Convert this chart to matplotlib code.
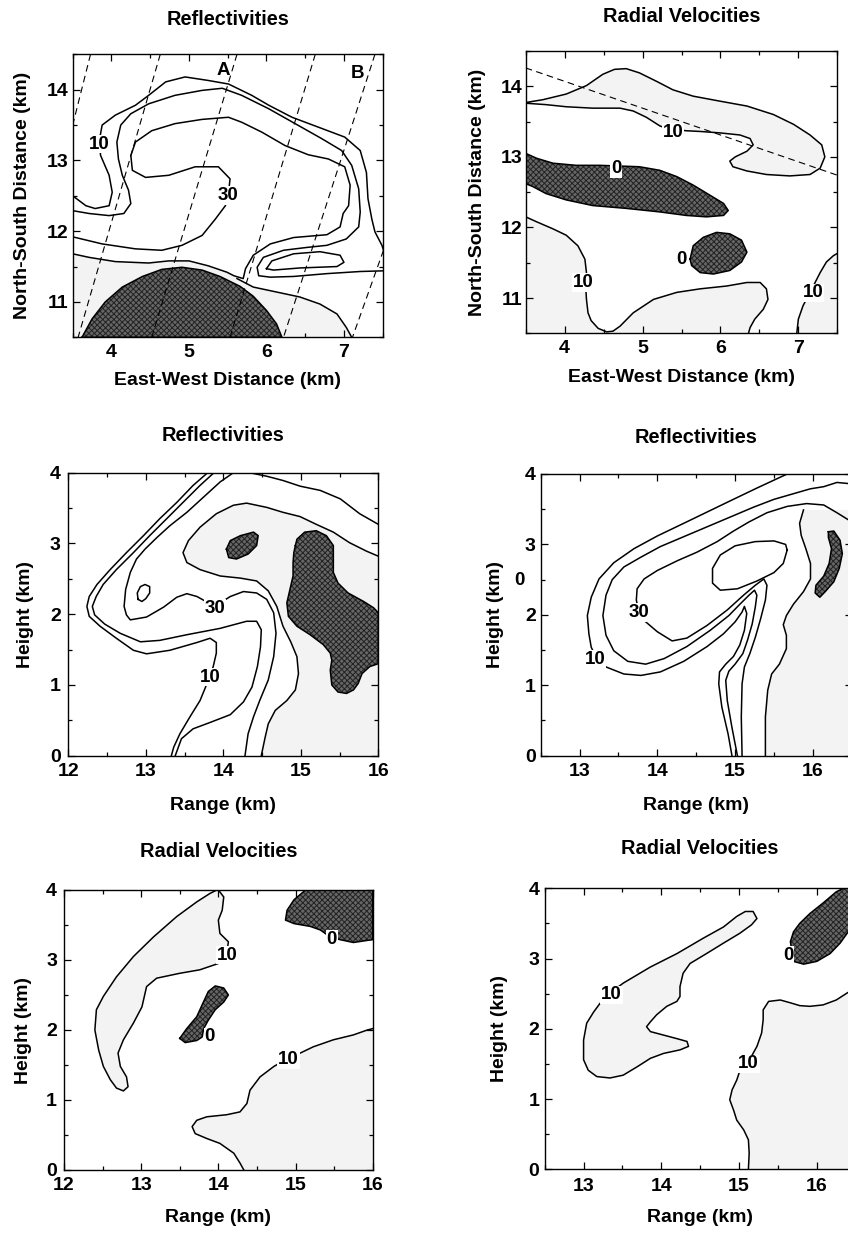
import matplotlib
matplotlib.use("Agg")
import matplotlib.pyplot as plt
import numpy as np
from matplotlib.ticker import MultipleLocator

plt.rcParams["font.family"] = ["Liberation Sans", "DejaVu Sans"]
plt.rcParams["font.weight"] = "bold"
plt.rcParams["axes.labelweight"] = "bold"
plt.rcParams["axes.titleweight"] = "bold"
plt.rcParams["font.size"] = 14
plt.rcParams["axes.titlesize"] = 14.4
plt.rcParams["hatch.linewidth"] = 0.7

# ---------------- panel 1: reflectivity, plan view (km) ----------------
P1_Z10 = [(3.50, 12.50), (3.67, 12.36), (3.79, 12.32), (3.97, 12.36), (4.01, 12.55), (3.97, 12.79),
          (3.86, 13.07), (3.84, 13.26), (3.88, 13.50), (4.05, 13.64), (4.31, 13.78), (4.48, 13.92),
          (4.70, 14.11), (4.95, 14.18), (5.25, 14.13), (5.51, 14.08), (5.81, 13.92), (6.03, 13.78),
          (6.33, 13.61), (6.67, 13.47), (7.01, 13.33), (7.21, 13.14), (7.29, 12.83), (7.31, 12.46),
          (7.36, 12.17), (7.40, 11.99), (7.49, 11.80), (7.52, 11.70)]
P1_Z20 = [(3.50, 12.29), (3.71, 12.25), (3.97, 12.22), (4.16, 12.25), (4.25, 12.39), (4.22, 12.58),
          (4.14, 12.79), (4.09, 13.02), (4.07, 13.26), (4.12, 13.50), (4.25, 13.66), (4.48, 13.80),
          (4.82, 13.92), (5.17, 13.99), (5.43, 14.02), (5.68, 13.92), (6.03, 13.73), (6.37, 13.52),
          (6.71, 13.31), (6.97, 13.14), (7.10, 12.93), (7.19, 12.60), (7.21, 12.27), (7.19, 12.06),
          (7.03, 11.89), (6.78, 11.80), (6.52, 11.77), (6.22, 11.73), (5.96, 11.63), (5.88, 11.49),
          (5.90, 11.37), (6.05, 11.35), (6.35, 11.36), (6.78, 11.40), (7.21, 11.43), (7.52, 11.44)]
P1_Z30 = [(3.50, 11.92), (3.88, 11.82), (4.31, 11.75), (4.65, 11.73), (4.91, 11.80), (5.17, 11.94),
          (5.34, 12.17), (5.47, 12.36), (5.51, 12.53), (5.53, 12.74), (5.38, 12.91), (5.08, 12.91),
          (4.74, 12.79), (4.44, 12.76), (4.27, 12.86), (4.25, 13.07), (4.31, 13.26), (4.52, 13.42),
          (4.82, 13.52), (5.17, 13.58), (5.51, 13.61), (5.68, 13.54), (5.94, 13.40), (6.24, 13.21),
          (6.54, 13.08), (6.80, 13.02), (7.01, 12.91), (7.08, 12.65), (7.06, 12.36), (6.99, 12.25),
          (6.95, 12.06), (6.78, 11.95), (6.35, 11.91), (6.05, 11.82), (5.83, 11.66), (5.73, 11.47),
          (5.70, 11.33), (5.58, 11.37), (5.49, 11.42), (5.25, 11.51), (5.00, 11.58), (4.74, 11.58),
          (4.48, 11.55), (4.05, 11.57), (3.71, 11.63), (3.50, 11.68)]
P1_LOOP = [(6.00, 11.47), (6.07, 11.58), (6.35, 11.68), (6.69, 11.71), (6.95, 11.66), (7.00, 11.56),
           (6.91, 11.50), (6.43, 11.48), (6.09, 11.45), (6.00, 11.47)]
P1_LOW = [(5.62, 11.33), (5.83, 11.21), (6.13, 11.14), (6.43, 11.07), (6.69, 10.97), (6.91, 10.83),
          (7.03, 10.64), (7.10, 10.50)]
P1_CORE = [(3.62, 10.50), (3.75, 10.76), (3.92, 11.00), (4.14, 11.21), (4.40, 11.36), (4.65, 11.46),
           (4.91, 11.49), (5.17, 11.45), (5.40, 11.36), (5.66, 11.22), (5.83, 11.08), (6.00, 10.88),
           (6.13, 10.69), (6.20, 10.50)]
P1_SHADE = [(3.50, 11.68), (3.71, 11.63), (4.05, 11.57), (4.48, 11.55), (4.74, 11.58), (5.00, 11.58),
            (5.25, 11.51), (5.49, 11.42), (5.62, 11.33), (5.83, 11.21), (6.13, 11.14), (6.43, 11.07),
            (6.69, 10.97), (6.91, 10.83), (7.03, 10.64), (7.10, 10.50), (3.50, 10.50)]
P1_RADIALS = [[(3.73, 14.5), (3.50, 13.5)], [(4.63, 14.5), (3.57, 10.5)], [(5.62, 14.5), (4.52, 10.5)],
              [(6.63, 14.5), (5.53, 10.5)], [(7.40, 14.5), (6.22, 10.5)], [(7.51, 11.73), (7.11, 10.5)]]
P1_LABELS = [(3.84, 13.26, "10"), (5.51, 12.53, "30")]
P1_LETTERS = [(5.44, 14.30, "A"), (7.18, 14.25, "B")]

# ---------------- panel 2: radial velocity, plan view ----------------
P2_V10_TOP = [(3.50, 13.77), (3.72, 13.81), (4.02, 13.89), (4.28, 14.01), (4.49, 14.17), (4.64, 14.24),
              (4.79, 14.25), (4.96, 14.19), (5.18, 14.07), (5.39, 13.95), (5.65, 13.86), (5.99, 13.79),
              (6.34, 13.72), (6.68, 13.60), (6.94, 13.46), (7.15, 13.31), (7.30, 13.17), (7.34, 13.00),
              (7.28, 12.84), (7.15, 12.75), (6.89, 12.73), (6.59, 12.75), (6.34, 12.80), (6.16, 12.86),
              (6.12, 12.94), (6.19, 13.00), (6.34, 13.08), (6.42, 13.17), (6.38, 13.26), (6.25, 13.31),
              (5.99, 13.34), (5.74, 13.36), (5.56, 13.37), (5.31, 13.40), (5.22, 13.44), (5.05, 13.56),
              (4.88, 13.65), (4.71, 13.69), (4.36, 13.69), (4.02, 13.71), (3.76, 13.74), (3.50, 13.76)]
P2_V0_BAND = [(3.50, 13.05), (3.64, 12.98), (3.85, 12.91), (4.15, 12.88), (4.45, 12.88), (4.71, 12.87),
              (4.96, 12.86), (5.22, 12.81), (5.44, 12.72), (5.65, 12.60), (5.86, 12.46), (6.04, 12.34),
              (6.10, 12.24), (6.04, 12.17), (5.82, 12.15), (5.56, 12.17), (5.22, 12.22), (4.79, 12.27),
              (4.36, 12.31), (4.02, 12.39), (3.76, 12.48), (3.59, 12.58), (3.50, 12.62)]
P2_V0_CELL = [(5.61, 11.55), (5.65, 11.74), (5.78, 11.86), (5.95, 11.93), (6.12, 11.91), (6.27, 11.82),
              (6.34, 11.65), (6.27, 11.51), (6.12, 11.39), (5.91, 11.34), (5.74, 11.36), (5.63, 11.46)]
P2_V10_LOW = [(3.50, 12.15), (3.64, 12.08), (3.85, 11.98), (4.02, 11.89), (4.17, 11.74), (4.26, 11.55),
              (4.28, 11.36), (4.27, 11.17), (4.28, 10.98), (4.30, 10.79), (4.34, 10.68), (4.43, 10.57),
              (4.54, 10.52), (4.62, 10.53), (4.71, 10.60), (4.88, 10.79), (5.14, 10.98), (5.44, 11.08),
              (5.74, 11.13), (6.08, 11.17), (6.34, 11.22), (6.51, 11.22), (6.59, 11.13), (6.61, 10.98),
              (6.55, 10.84), (6.44, 10.70), (6.38, 10.58), (6.36, 10.50)]
P2_V10_EDGE = [(6.98, 10.50), (7.00, 10.70), (7.06, 10.89), (7.15, 11.08), (7.28, 11.36), (7.36, 11.51),
               (7.45, 11.60), (7.53, 11.65)]
P2_SECTION = [(3.50, 14.26), (7.50, 12.74)]
P2_LABELS = [(5.39, 13.38, "10"), (4.66, 12.86, "0"), (5.50, 11.58, "0"), (4.24, 11.25, "10"),
             (7.19, 11.10, "10")]

# ---------------- panel 3: reflectivity, cross section A ----------------
P3_Z10 = [(13.83, 4.03), (13.61, 3.82), (13.40, 3.58), (13.18, 3.35), (12.97, 3.11), (12.75, 2.87),
          (12.54, 2.63), (12.37, 2.42), (12.27, 2.25), (12.24, 2.11), (12.27, 1.97), (12.41, 1.83),
          (12.62, 1.66), (12.84, 1.49), (13.01, 1.44), (13.31, 1.49), (13.66, 1.60), (13.83, 1.66),
          (13.91, 1.60), (13.91, 1.45), (13.87, 1.26), (13.83, 1.14), (13.79, 1.02), (13.70, 0.78),
          (13.57, 0.55), (13.44, 0.31), (13.36, 0.12), (13.33, 0.00)]
P3_Z20 = [(13.91, 4.03), (13.70, 3.82), (13.48, 3.58), (13.27, 3.35), (13.05, 3.11), (12.84, 2.87),
          (12.62, 2.63), (12.45, 2.42), (12.36, 2.25), (12.31, 2.11), (12.34, 1.99), (12.47, 1.86),
          (12.67, 1.73), (12.93, 1.61), (13.18, 1.63), (13.53, 1.71), (13.96, 1.80), (14.30, 1.90),
          (14.43, 1.90), (14.49, 1.78), (14.48, 1.54), (14.44, 1.26), (14.37, 0.97), (14.26, 0.76),
          (14.09, 0.58), (13.83, 0.47), (13.61, 0.38), (13.46, 0.24), (13.38, 0.00)]
P3_Z30 = [(16.00, 3.27), (15.76, 3.42), (15.51, 3.63), (15.25, 3.75), (14.99, 3.81), (14.77, 3.89),
          (14.56, 3.95), (14.34, 4.00), (14.17, 4.03), (13.96, 3.87), (13.74, 3.65), (13.53, 3.44),
          (13.31, 3.25), (13.14, 3.08), (12.99, 2.92), (12.88, 2.78), (12.80, 2.59), (12.74, 2.35),
          (12.72, 2.11), (12.75, 1.99), (12.80, 1.92), (13.01, 1.96), (13.23, 2.10), (13.40, 2.24),
          (13.53, 2.29), (13.66, 2.25), (13.89, 2.11), (14.09, 2.25), (14.26, 2.32), (14.43, 2.30),
          (14.56, 2.21), (14.65, 2.02), (14.68, 1.73), (14.65, 1.40), (14.58, 1.07), (14.47, 0.78),
          (14.39, 0.55), (14.32, 0.31), (14.28, 0.00)]
P3_Z30_RING = [(12.90, 2.21), (12.89, 2.30), (12.93, 2.39), (12.99, 2.42), (13.05, 2.39), (13.05, 2.30),
               (13.00, 2.22), (12.95, 2.18), (12.90, 2.21)]
P3_Z40 = [(16.00, 2.82), (15.85, 2.89), (15.63, 3.01), (15.42, 3.16), (15.20, 3.27), (14.99, 3.38),
          (14.77, 3.44), (14.56, 3.51), (14.30, 3.57), (14.13, 3.54), (13.91, 3.42), (13.70, 3.23),
          (13.55, 3.04), (13.48, 2.87), (13.53, 2.73), (13.70, 2.63), (13.96, 2.54), (14.22, 2.51),
          (14.43, 2.47), (14.58, 2.33), (14.69, 2.11), (14.77, 1.83), (14.87, 1.61), (14.95, 1.40),
          (14.97, 1.16), (14.93, 0.93), (14.82, 0.78), (14.67, 0.64), (14.58, 0.45), (14.54, 0.26),
          (14.49, 0.00)]
P3_CORE_SMALL = [(14.04, 2.92), (14.09, 3.04), (14.22, 3.11), (14.39, 3.16), (14.45, 3.11), (14.43, 2.97),
                 (14.32, 2.85), (14.17, 2.78), (14.07, 2.80)]
P3_CORE_BIG = [(14.93, 2.97), (14.95, 3.06), (15.05, 3.16), (15.20, 3.18), (15.33, 3.11), (15.42, 2.97),
               (15.42, 2.78), (15.42, 2.59), (15.48, 2.44), (15.61, 2.30), (15.81, 2.18), (15.94, 2.09),
               (16.00, 2.02), (16.00, 1.30), (15.89, 1.26), (15.79, 1.16), (15.74, 1.02), (15.68, 0.93),
               (15.59, 0.88), (15.48, 0.90), (15.40, 1.00), (15.38, 1.21), (15.40, 1.35), (15.38, 1.45),
               (15.29, 1.57), (15.12, 1.71), (14.95, 1.83), (14.84, 1.97), (14.82, 2.16), (14.86, 2.35),
               (14.90, 2.54), (14.90, 2.73), (14.91, 2.87)]
P3_LABELS = [(13.83, 1.14, "10"), (13.89, 2.11, "30")]

# ---------------- panel 4: reflectivity, cross section B ----------------
P4_Z10 = [(15.67, 4.00), (15.28, 3.80), (14.94, 3.62), (14.64, 3.46), (14.34, 3.30), (14.00, 3.12),
          (13.70, 2.94), (13.44, 2.74), (13.25, 2.51), (13.15, 2.25), (13.10, 1.99), (13.12, 1.73),
          (13.15, 1.54), (13.21, 1.40), (13.34, 1.26), (13.57, 1.16), (13.79, 1.14), (14.04, 1.19),
          (14.34, 1.34), (14.64, 1.55), (14.85, 1.73), (15.00, 1.90), (15.09, 2.04), (15.12, 2.12),
          (15.15, 2.02), (15.12, 1.78), (15.06, 1.57), (14.98, 1.41), (14.88, 1.30), (14.80, 1.19),
          (14.79, 1.02), (14.83, 0.69), (14.91, 0.31), (14.96, 0.00)]
P4_Z20 = [(16.50, 3.86), (16.31, 3.88), (16.14, 3.82), (15.97, 3.79), (15.75, 3.72), (15.50, 3.64),
          (15.24, 3.53), (14.94, 3.39), (14.64, 3.25), (14.34, 3.11), (14.04, 2.97), (13.79, 2.82),
          (13.57, 2.68), (13.42, 2.50), (13.34, 2.28), (13.30, 1.99), (13.34, 1.71), (13.44, 1.49),
          (13.62, 1.34), (13.85, 1.30), (14.09, 1.38), (14.38, 1.55), (14.68, 1.78), (14.92, 1.99),
          (15.07, 2.16), (15.18, 2.28), (15.25, 2.35), (15.28, 2.28), (15.26, 2.11), (15.22, 1.87),
          (15.16, 1.64), (15.10, 1.45), (15.00, 1.30), (14.92, 1.20), (14.88, 1.07), (14.90, 0.78),
          (14.96, 0.40), (15.03, 0.00)]
P4_Z30 = [(16.50, 3.32), (16.31, 3.45), (16.14, 3.56), (15.92, 3.58), (15.67, 3.54), (15.41, 3.45),
          (15.18, 3.32), (14.98, 3.19), (14.77, 3.04), (14.51, 2.89), (14.26, 2.77), (14.00, 2.63),
          (13.83, 2.51), (13.74, 2.37), (13.73, 2.21), (13.76, 2.06), (13.83, 1.92), (14.00, 1.76),
          (14.19, 1.63), (14.38, 1.67), (14.64, 1.85), (14.90, 2.07), (15.11, 2.28), (15.26, 2.42),
          (15.37, 2.51), (15.41, 2.42), (15.39, 2.21), (15.33, 1.95), (15.26, 1.68), (15.19, 1.45),
          (15.12, 1.26), (15.09, 1.02), (15.08, 0.55), (15.09, 0.00)]
P4_Z40 = [(15.88, 3.49), (15.83, 3.30), (15.85, 3.13), (15.91, 2.94), (15.97, 2.73), (15.97, 2.51),
          (15.88, 2.33), (15.75, 2.15), (15.66, 1.99), (15.62, 1.86), (15.66, 1.71), (15.66, 1.52),
          (15.57, 1.30), (15.47, 1.16), (15.42, 0.93), (15.39, 0.55), (15.39, 0.00)]
P4_Z40_RING = [(15.67, 2.92), (15.62, 2.73), (15.50, 2.60), (15.28, 2.48), (15.03, 2.37), (14.81, 2.35),
               (14.71, 2.45), (14.71, 2.66), (14.81, 2.85), (15.00, 2.98), (15.26, 3.04), (15.50, 3.05),
               (15.65, 3.00), (15.67, 2.92)]
P4_CORE = [(16.20, 3.18), (16.27, 3.19), (16.35, 3.06), (16.38, 2.87), (16.34, 2.66), (16.27, 2.47),
           (16.16, 2.33), (16.09, 2.25), (16.03, 2.31), (16.04, 2.42), (16.14, 2.55), (16.21, 2.73),
           (16.24, 2.94), (16.20, 3.10)]
P4_LABELS = [(13.20, 1.40, "10"), (13.76, 2.06, "30")]
P4_STRAY = (12.23, 2.51, "0")

# ---------------- panel 5: radial velocity, cross section A ----------------
P5_V10_LOOP = [(14.00, 4.00), (14.07, 3.90), (14.05, 3.71), (14.00, 3.57), (14.02, 3.38), (14.13, 3.26),
               (14.11, 3.10), (14.00, 2.95), (13.76, 2.86), (13.50, 2.81), (13.20, 2.74), (13.07, 2.62),
               (13.01, 2.33), (12.90, 2.10), (12.77, 1.86), (12.70, 1.67), (12.73, 1.48), (12.81, 1.33),
               (12.83, 1.19), (12.77, 1.13), (12.68, 1.17), (12.60, 1.29), (12.51, 1.48), (12.45, 1.71),
               (12.40, 2.00), (12.42, 2.29), (12.51, 2.48), (12.68, 2.76), (12.90, 3.05), (13.16, 3.33),
               (13.46, 3.62), (13.72, 3.83), (13.89, 3.95), (13.98, 4.00)]
P5_V0_CELL = [(13.50, 1.88), (13.59, 2.02), (13.72, 2.19), (13.79, 2.36), (13.87, 2.55), (13.96, 2.63),
              (14.07, 2.60), (14.13, 2.50), (14.07, 2.40), (13.96, 2.29), (13.87, 2.14), (13.81, 2.02),
              (13.79, 1.90), (13.72, 1.85), (13.57, 1.82)]
P5_V0_TOP = [(15.13, 4.00), (14.98, 3.86), (14.89, 3.71), (14.87, 3.57), (14.98, 3.52), (15.19, 3.48),
             (15.32, 3.43), (15.41, 3.36), (15.47, 3.32), (15.58, 3.29), (15.75, 3.25), (15.93, 3.28),
             (16.00, 3.29), (16.00, 4.00)]
P5_V10_LOW = [(16.00, 2.02), (15.93, 2.00), (15.75, 1.93), (15.49, 1.86), (15.23, 1.76), (15.06, 1.67),
              (14.91, 1.60), (14.72, 1.48), (14.54, 1.33), (14.41, 1.14), (14.37, 0.95), (14.28, 0.83),
              (14.11, 0.79), (13.85, 0.76), (13.72, 0.71), (13.66, 0.62), (13.70, 0.52), (13.85, 0.45),
              (14.02, 0.38), (14.20, 0.24), (14.28, 0.10), (14.33, 0.00)]
P5_LABELS = [(14.12, 3.10, "10"), (13.89, 1.93, "0"), (15.47, 3.32, "0"), (14.91, 1.60, "10")]

# ---------------- panel 6: radial velocity, cross section B ----------------
P6_V10_LOOP = [(13.34, 2.51), (13.51, 2.65), (13.86, 2.88), (14.20, 3.07), (14.54, 3.29), (14.80, 3.45),
               (14.97, 3.60), (15.08, 3.67), (15.18, 3.67), (15.23, 3.57), (15.16, 3.48), (15.01, 3.36),
               (14.80, 3.22), (14.58, 3.07), (14.37, 2.93), (14.28, 2.79), (14.24, 2.60), (14.24, 2.46),
               (14.20, 2.39), (14.07, 2.32), (13.94, 2.20), (13.86, 2.10), (13.81, 2.03), (13.86, 1.96),
               (14.03, 1.91), (14.20, 1.86), (14.33, 1.82), (14.35, 1.75), (14.24, 1.70), (14.03, 1.65),
               (13.86, 1.58), (13.69, 1.46), (13.51, 1.34), (13.34, 1.30), (13.17, 1.32), (13.06, 1.41),
               (13.00, 1.56), (13.00, 1.84), (13.04, 2.08), (13.13, 2.24), (13.21, 2.36), (13.34, 2.51)]
P6_V0_TOP = [(16.34, 4.00), (16.25, 3.95), (16.08, 3.79), (15.91, 3.64), (15.78, 3.50), (15.70, 3.38),
             (15.66, 3.24), (15.68, 3.10), (15.70, 2.96), (15.83, 2.92), (16.00, 2.96), (16.17, 3.07),
             (16.30, 3.22), (16.39, 3.36), (16.50, 3.50), (16.50, 4.00)]
P6_V10_LOW = [(15.12, 0.00), (15.13, 0.23), (15.12, 0.42), (15.06, 0.56), (14.97, 0.70), (14.93, 0.84),
              (14.88, 0.99), (14.91, 1.13), (14.97, 1.27), (15.00, 1.37), (15.12, 1.53), (15.23, 1.75),
              (15.29, 1.94), (15.31, 2.13), (15.31, 2.27), (15.38, 2.39), (15.53, 2.41), (15.66, 2.37),
              (15.78, 2.33), (15.91, 2.32), (16.08, 2.34), (16.25, 2.41), (16.39, 2.51), (16.50, 2.58)]
P6_LABELS = [(13.36, 2.51, "10"), (15.63, 3.07, "0"), (15.12, 1.53, "10")]

# ---------------- layout (figure pixels 848 x 1233) ----------------
W, H = 848, 1233
LAYOUT = {
    # left, top, right, bottom in pixels
    "p1": dict(box=(72.7, 54.3, 382.7, 337.3), tpad=21.0, xpad=5.0, ypad=3.0, xl=42.7, yl=49.7),
    "p2": dict(box=(525.7, 51.0, 837.3, 333.3), tpad=21.0, xpad=4.5, ypad=2.5, xl=44.7, yl=48.4),
    "p3": dict(box=(68.3, 472.7, 378.3, 755.7), tpad=23.0, xpad=5.5, ypad=5.5, xl=49.3, yl=43.3),
    "p4": dict(box=(540.7, 474.0, 851.7, 755.7), tpad=22.0, xpad=5.0, ypad=3.5, xl=49.3, yl=45.0),
    "p5": dict(box=(64.0, 890.0, 372.7, 1170.0), tpad=23.5, xpad=5.0, ypad=5.0, xl=48.0, yl=40.7),
    "p6": dict(box=(544.7, 888.3, 855.7, 1169.3), tpad=25.0, xpad=6.0, ypad=4.0, xl=48.7, yl=45.7),
}
LW = 1.1
DARK_FACE = "#666666"
DARK_HATCH = "#222222"
STIPPLE = "#f3f3f3"
LABEL_SIZE = 13.5


def make_axes(fig, key, xlim, ylim, xticks, yticks, title, xlabel, ylabel):
    lay = LAYOUT[key]
    l, t, r, b = lay["box"]
    ax = fig.add_axes([l / W, 1 - b / H, (r - l) / W, (b - t) / H])
    ax.set_xlim(*xlim)
    ax.set_ylim(*ylim)
    ax.set_xticks(xticks)
    ax.set_yticks(yticks)
    ax.xaxis.set_minor_locator(MultipleLocator(0.5))
    ax.yaxis.set_minor_locator(MultipleLocator(0.5))
    ax.tick_params(which="both", direction="in", top=True, right=True, width=0.9)
    ax.tick_params(which="major", length=5)
    ax.tick_params(which="minor", length=3)
    ax.tick_params(axis="x", pad=lay["xpad"])
    ax.tick_params(axis="y", pad=lay["ypad"])
    for sp in ax.spines.values():
        sp.set_linewidth(1.0)
    ax.set_title(title, pad=lay["tpad"])
    ax.set_xlabel(xlabel, va="center")
    ax.set_ylabel(ylabel, va="center", ha="center")
    ax.xaxis.set_label_coords(0.5, -lay["xl"] / (b - t))
    ax.yaxis.set_label_coords(-lay["yl"] / (r - l), 0.5)
    return ax


def contour(ax, pts, closed=False):
    a = np.asarray(pts)
    if closed:
        a = np.vstack([a, a[:1]])
    ax.plot(a[:, 0], a[:, 1], color="k", lw=LW, solid_joinstyle="round", zorder=4)


def dark(ax, pts):
    a = np.asarray(pts)
    ax.fill(a[:, 0], a[:, 1], facecolor=DARK_FACE, edgecolor="none", zorder=2)
    ax.fill(a[:, 0], a[:, 1], facecolor="none", edgecolor=DARK_HATCH, hatch="xxxxxx", linewidth=0, zorder=2.5)
    contour(ax, pts, closed=True)


def stipple(ax, pts):
    a = np.asarray(pts)
    ax.fill(a[:, 0], a[:, 1], facecolor=STIPPLE, edgecolor="none", zorder=1)


def tag(ax, labels, box=True):
    for x, y, s in labels:
        kw = {}
        if box:
            kw["bbox"] = dict(boxstyle="square,pad=0.04", fc="white", ec="none")
        ax.text(x, y, s, ha="center", va="center_baseline", fontsize=LABEL_SIZE, fontweight="bold",
                zorder=6, **kw)


fig = plt.figure(figsize=(W / 100, H / 100), dpi=100)

plan_x, plan_y = (3.5, 7.5), (10.5, 14.5)
plan_xt, plan_yt = [4, 5, 6, 7], [11, 12, 13, 14]
ew, ns = "East-West Distance (km)", "North-South Distance (km)"

# panel 1
ax = make_axes(fig, "p1", plan_x, plan_y, plan_xt, plan_yt, "Reflectivities", ew, ns)
stipple(ax, P1_SHADE)
dark(ax, P1_CORE + [(3.62, 10.5)])
for seg in P1_RADIALS:
    a = np.asarray(seg)
    ax.plot(a[:, 0], a[:, 1], color="k", lw=0.8, dashes=(6, 4), zorder=3)
for c in (P1_Z10, P1_Z20, P1_Z30, P1_LOW):
    contour(ax, c)
contour(ax, P1_LOOP)
tag(ax, P1_LABELS)
tag(ax, P1_LETTERS, box=False)

# panel 2
ax = make_axes(fig, "p2", plan_x, plan_y, plan_xt, plan_yt, "Radial Velocities", ew, ns)
stipple(ax, P2_V10_TOP)
stipple(ax, P2_V10_LOW + [(3.5, 10.5)])
stipple(ax, P2_V10_EDGE + [(7.5, 10.5)])
dark(ax, P2_V0_BAND)
dark(ax, P2_V0_CELL)
a = np.asarray(P2_SECTION)
ax.plot(a[:, 0], a[:, 1], color="k", lw=0.8, dashes=(6, 4), zorder=3)
contour(ax, P2_V10_TOP)
contour(ax, P2_V10_LOW)
contour(ax, P2_V10_EDGE)
tag(ax, P2_LABELS)

rng, hgt = "Range (km)", "Height (km)"

# panel 3
ax = make_axes(fig, "p3", (12, 16), (0, 4), [12, 13, 14, 15, 16], [0, 1, 2, 3, 4], "Reflectivities", rng, hgt)
stipple(ax, P3_Z40 + [(16, 0)])
dark(ax, P3_CORE_SMALL)
dark(ax, P3_CORE_BIG)
for c in (P3_Z10, P3_Z20, P3_Z30, P3_Z30_RING, P3_Z40):
    contour(ax, c)
tag(ax, P3_LABELS)

# panel 4
ax = make_axes(fig, "p4", (12.5, 16.5), (0, 4), [13, 14, 15, 16], [0, 1, 2, 3, 4], "Reflectivities", rng, hgt)
stipple(ax, P4_Z40 + [(16.5, 0), (16.5, 3.49)])
dark(ax, P4_CORE)
for c in (P4_Z10, P4_Z20, P4_Z30, P4_Z40, P4_Z40_RING):
    contour(ax, c)
tag(ax, P4_LABELS)
ax.text(P4_STRAY[0], P4_STRAY[1], P4_STRAY[2], ha="center", va="center_baseline",
        fontsize=LABEL_SIZE, fontweight="bold", clip_on=False)

# panel 5
ax = make_axes(fig, "p5", (12, 16), (0, 4), [12, 13, 14, 15, 16], [0, 1, 2, 3, 4], "Radial Velocities", rng, hgt)
stipple(ax, P5_V10_LOOP)
stipple(ax, P5_V10_LOW + [(16, 0)])
dark(ax, P5_V0_CELL)
dark(ax, P5_V0_TOP)
contour(ax, P5_V10_LOOP)
contour(ax, P5_V10_LOW)
tag(ax, P5_LABELS)

# panel 6
ax = make_axes(fig, "p6", (12.5, 16.5), (0, 4), [13, 14, 15, 16], [0, 1, 2, 3, 4], "Radial Velocities", rng, hgt)
stipple(ax, P6_V10_LOOP)
stipple(ax, P6_V10_LOW + [(16.5, 0)])
dark(ax, P6_V0_TOP)
contour(ax, P6_V10_LOOP)
contour(ax, P6_V10_LOW)
tag(ax, P6_LABELS)

fig.savefig("out.png", dpi=100)
plt.close(fig)
